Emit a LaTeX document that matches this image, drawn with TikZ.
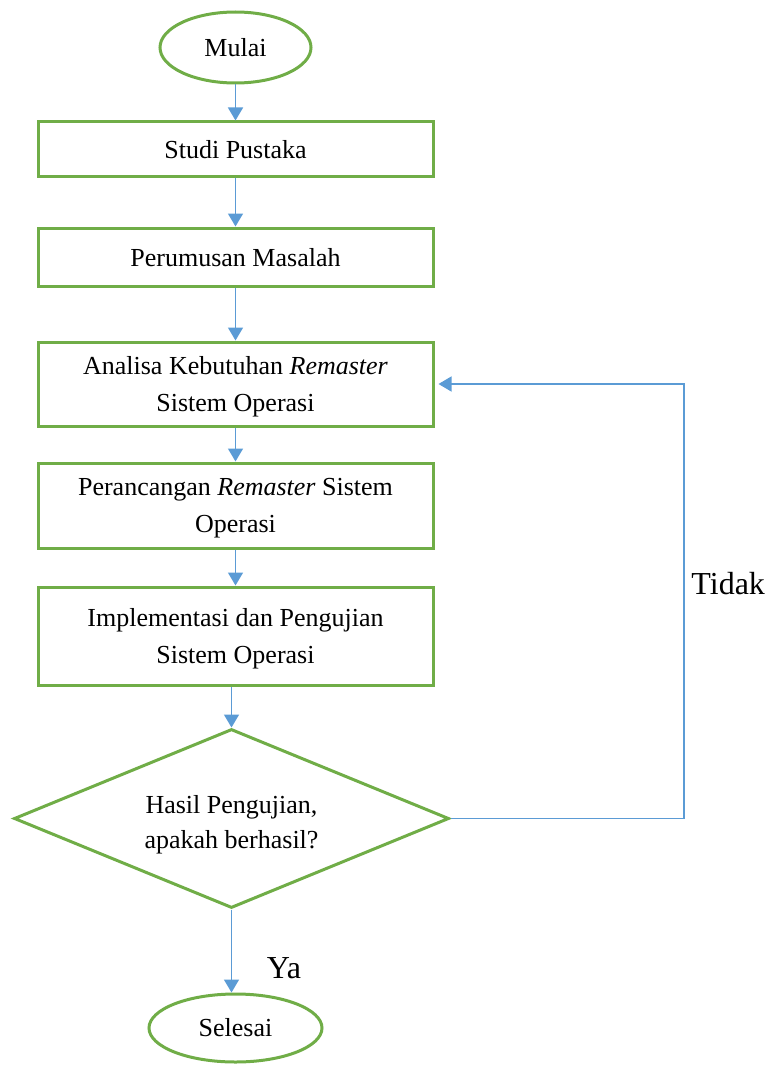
\documentclass[tikz,border=0pt]{standalone}
\usepackage{fontspec}
\setmainfont{Liberation Serif}
\usetikzlibrary{shapes.geometric, arrows.meta, positioning}
\definecolor{garis}{HTML}{70AD47}
\definecolor{panah}{HTML}{5B9BD5}

\begin{document}
\begin{tikzpicture}[
  proses/.style={rectangle, draw=garis, line width=1.5pt, minimum width=197.5pt,
    align=center, text depth=0pt, font=\fontsize{13}{18.5}\selectfont},
  terminal/.style={ellipse, draw=garis, line width=1.5pt, font=\fontsize{13}{18.5}\selectfont},
  keputusan/.style={diamond, draw=garis, line width=1.5pt, aspect=2.43, minimum width=217.5pt,
    minimum height=89.5pt, inner sep=0pt, align=center, text height=30pt, text depth=0pt,
    font=\fontsize{13}{17.5}\selectfont},
  arr/.style={-{Triangle[length=6.5pt, width=7.5pt]}, line width=0.75pt, color=panah},
  lbl/.style={font=\fontsize{16}{19}\selectfont, text=black}]

  \useasboundingbox (0,0) rectangle (389pt,-532.5pt);

  \node[terminal, minimum width=75.5pt, minimum height=35.5pt] (mulai) at (117.75pt,-23.75pt) {Mulai};
  \node[proses, minimum height=27pt, below=18pt of mulai] (studi) {Studi Pustaka};
  \node[proses, minimum height=29pt, below=24.5pt of studi] (rumusan) {Perumusan Masalah};
  \node[proses, minimum height=42pt, below=26.5pt of rumusan] (analisa) {Analisa Kebutuhan \textit{Remaster}\\Sistem Operasi};
  \node[proses, minimum height=42.5pt, below=17pt of analisa] (rancang) {Perancangan \textit{Remaster} Sistem\\Operasi};
  \node[proses, minimum height=49pt, below=18pt of rancang] (implementasi) {Implementasi dan Pengujian\\Sistem Operasi};
  \node[keputusan, below=20.5pt of implementasi, xshift=-2pt] (cek) {Hasil Pengujian,\\apakah berhasil?};
  \node[terminal, minimum width=86.5pt, minimum height=34pt, below=41.5pt of cek, xshift=2pt] (selesai) {Selesai};

  % jalur kembali
  \coordinate (balik) at (342pt,0);

  \draw[arr] (mulai) -- (studi);
  \draw[arr] (studi) -- (rumusan);
  \draw[arr] (rumusan) -- (analisa);
  \draw[arr] (analisa) -- (rancang);
  \draw[arr] (rancang) -- (implementasi);
  \draw[arr] (implementasi.south -| cek.north) -- (cek.north);
  \draw[arr] (cek.south) -- (cek.south |- selesai.north) node[lbl, pos=0.71, right=14pt] {Ya};
  \draw[arr, shorten >=2pt] (cek.east) -- (cek.east -| balik) |- (analisa.east)
    node[lbl, pos=0.27, right=0pt] {Tidak};
\end{tikzpicture}
\end{document}
